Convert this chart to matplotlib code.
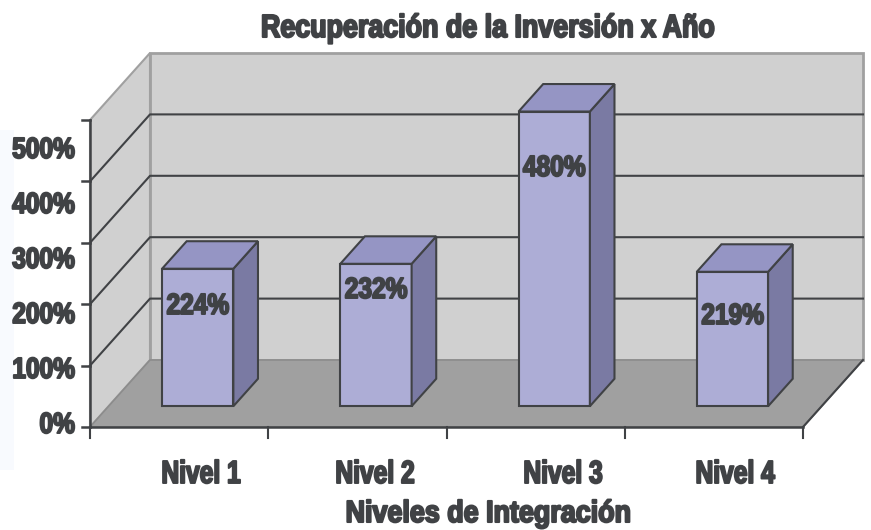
import matplotlib
matplotlib.use('Agg')
import matplotlib.pyplot as plt
import matplotlib.patheffects as pe
from matplotlib.patches import Polygon
from matplotlib.transforms import Affine2D

# data
niveles = ['Nivel 1', 'Nivel 2', 'Nivel 3', 'Nivel 4']
valores = [224, 232, 480, 219]
ticks_y = [0, 100, 200, 300, 400, 500]
etiquetas_y = ['0%', '100%', '200%', '300%', '400%', '500%']

plt.rcParams['font.family'] = ['Liberation Sans', 'DejaVu Sans']
GRIS = '#404245'
W, H = 871, 530
PX_X = 178.25  # px per category
PX_Y = 0.614   # px per percent
X0, Y0 = 90, 427
DX, DY = 60 / PX_X, 67 / PX_Y  # full depth of the floor in data units

# where the original put its labels (pixels, they do not follow the ticks)
base_y_etiquetas = [433, 378, 323, 268, 213, 158]
centro_niveles = [201, 375, 563, 735]
base_valores = [314, 298, 176, 324]


class Angosto(pe.AbstractPathEffect):
    # squeeze the glyphs sideways and fatten them, no Impact font here
    def __init__(self, sx, grueso, ancla='center'):
        super().__init__()
        self.sx, self.grueso, self.ancla = sx, grueso, ancla

    def draw_path(self, renderer, gc, tpath, affine, rgbFace):
        ext = tpath.get_extents()
        cx = ext.x1 if self.ancla == 'right' else (ext.x0 + ext.x1) / 2
        path = tpath.transformed(Affine2D().translate(-cx, 0).scale(self.sx, 1).translate(cx, 0))
        gc0 = renderer.new_gc()
        gc0.copy_properties(gc)
        gc0.set_foreground(GRIS)
        gc0.set_linewidth(self.grueso)
        renderer.draw_path(gc0, path, affine, rgbFace)
        gc0.restore()


def p(x, y, d=0):
    # oblique projection, d = 0 front plane, d = 1 back wall
    return (x + DX * d, y + DY * d)


def px_x(x):
    return (x - X0) / PX_X


def px_y(y):
    return (Y0 - y) / PX_Y


def cara(ax, pts, color, ec=GRIS, lw=1.5, z=2):
    ax.add_patch(Polygon(pts, closed=True, fc=color, ec=ec, lw=lw, zorder=z, joinstyle='miter'))


def texto(ax, x, y, s, size, sx, grueso=1.4, ha='center', z=6):
    t = ax.text(x, y, s, fontsize=size, fontweight='bold', color=GRIS, ha=ha, va='baseline', zorder=z)
    t.set_path_effects([Angosto(sx, grueso, ha)])
    return t


fig = plt.figure(figsize=(W / 100, H / 100), dpi=100)
ax = fig.add_axes([0, 0, 1, 1])
ax.set_xlim(px_x(0), px_x(W))
ax.set_ylim(px_y(H), px_y(0))
ax.axis('off')

n = len(niveles)
tope = ticks_y[-1]

# faint tint along the left edge of the original
ax.axvspan(px_x(0), px_x(14), ymin=(H - 470) / H, ymax=(H - 130) / H, color='#f8fafe', lw=0, zorder=0)

# back wall, side wall, floor
cara(ax, [p(0, 0, 1), p(n, 0, 1), p(n, tope, 1), p(0, tope, 1)], '#d0d0d0', ec='#a0a0a0', lw=2, z=1)
cara(ax, [p(0, 0), p(0, 0, 1), p(0, tope, 1), p(0, tope)], '#d0d0d0', ec='#a0a0a0', lw=1.5, z=1)
cara(ax, [p(0, 0), p(n, 0), p(n, 0, 1), p(0, 0, 1)], '#a0a0a0', ec='#8c8c8c', lw=1.2, z=1.2)

# gridlines, the top one stays grey
for v in ticks_y[1:-1]:
    xs, ys = zip(p(0, v), p(0, v, 1), p(n, v, 1))
    ax.plot(xs, ys, color=GRIS, lw=1.5, zorder=1.5)

# axes lines and ticks
ax.plot([0, 0], [0, tope], color=GRIS, lw=1.8, zorder=3)
ax.plot(*zip(p(n, 0), p(n, 0, 1)), color=GRIS, lw=1.5, zorder=3)
ax.plot([0, n], [0, 0], color=GRIS, lw=1.8, zorder=3)
for v, et, b in zip(ticks_y, etiquetas_y, base_y_etiquetas):
    ax.plot([-8 / PX_X, 0], [v, v], color=GRIS, lw=1.8, zorder=3)
    texto(ax, px_x(75), px_y(b), et, 21, 0.84, ha='right')
for i in range(n + 1):
    ax.plot([i, i], [0, -11 / PX_Y], color=GRIS, lw=1.5, zorder=3)

# bars
d0, d1 = 0.31, 0.72
ancho = 0.40
for i, (nom, v) in enumerate(zip(niveles, valores)):
    x0, x1 = i + 0.5 - ancho / 2, i + 0.5 + ancho / 2
    cara(ax, [p(x0, 0, d0), p(x1, 0, d0), p(x1, v, d0), p(x0, v, d0)], '#adadd6', z=4)
    cara(ax, [p(x1, 0, d0), p(x1, 0, d1), p(x1, v, d1), p(x1, v, d0)], '#7a7aa3', z=4)
    cara(ax, [p(x0, v, d0), p(x1, v, d0), p(x1, v, d1), p(x0, v, d1)], '#9595c4', z=4)
    xl = p(i + 0.5, v, d0)[0]
    texto(ax, xl, px_y(base_valores[i]), f'{v}%', 21, 0.84)
    texto(ax, px_x(centro_niveles[i]), px_y(483), nom, 23, 0.77)

texto(ax, px_x(488), px_y(522), 'Niveles de Integración', 22, 0.88, grueso=1.5)
texto(ax, px_x(488), px_y(37), 'Recuperación de la Inversión x Año', 23, 0.84, grueso=1.5)

fig.savefig('out.png', dpi=100)
